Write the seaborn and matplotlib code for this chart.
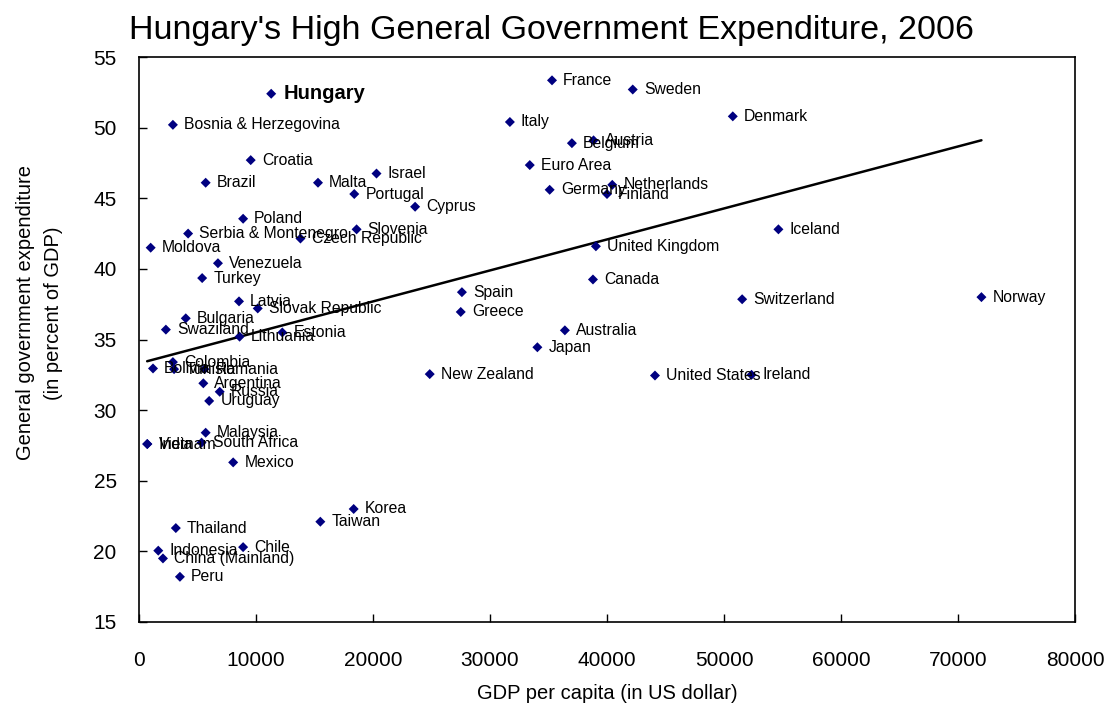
import numpy as np
import pandas as pd
import matplotlib
matplotlib.use("Agg")
import matplotlib.pyplot as plt
import seaborn as sns

# Countries, GDP per capita (US$) and general government expenditure (% of GDP), 2006
countries = [
    "Hungary", "Bosnia & Herzegovina", "Croatia", "Brazil", "Malta", "Israel",
    "Portugal", "Cyprus", "Poland", "Slovenia", "Czech Republic",
    "Serbia & Montenegro", "Moldova", "Venezuela", "Turkey", "Latvia",
    "Slovak Republic", "Bulgaria", "Swaziland", "Lithuania", "Estonia",
    "Colombia", "Bolivia", "Tunisia", "Romania", "Argentina", "Russia",
    "Uruguay", "Malaysia", "South Africa", "India", "Vietnam", "Mexico",
    "Thailand", "Indonesia", "China (Mainland)", "Peru", "Chile", "Korea",
    "Taiwan", "France", "Sweden", "Denmark", "Italy", "Austria", "Belgium",
    "Euro Area", "Germany", "Netherlands", "Finland", "United Kingdom",
    "Canada", "Spain", "Greece", "Australia", "Japan", "New Zealand",
    "United States", "Ireland", "Switzerland", "Iceland", "Norway",
]
gdp = [
    11300, 2900, 9550, 5700, 15300, 20300,
    18400, 23600, 8900, 18600, 13800,
    4200, 1000, 6750, 5400, 8550,
    10150, 4000, 2300, 8600, 12250,
    2900, 1200, 3000, 5600, 5500, 6900,
    6000, 5700, 5350, 700, 720, 8050,
    3150, 1650, 2050, 3500, 8900, 18350,
    15500, 35300, 42200, 50750, 31700, 38850, 37000,
    33400, 35100, 40450, 40000, 39050,
    38800, 27600, 27500, 36400, 34050, 24850,
    44100, 52350, 51550, 54650, 72000,
]
expenditure = [
    52.4, 50.2, 47.7, 46.1, 46.1, 46.75,
    45.3, 44.4, 43.55, 42.8, 42.15,
    42.5, 41.5, 40.4, 39.35, 37.7,
    37.2, 36.5, 35.7, 35.2, 35.5,
    33.4, 32.95, 32.9, 32.9, 31.9, 31.3,
    30.65, 28.4, 27.7, 27.6, 27.6, 26.3,
    21.65, 20.05, 19.5, 18.2, 20.3, 23.0,
    22.1, 53.35, 52.7, 50.8, 50.4, 49.1, 48.9,
    47.35, 45.6, 45.95, 45.3, 41.6,
    39.25, 38.35, 36.95, 35.65, 34.45, 32.55,
    32.45, 32.5, 37.85, 42.8, 38.0,
]

df = pd.DataFrame({"country": countries, "gdp": gdp, "exp": expenditure})

sns.set_theme(style="white")
plt.rcParams["font.family"] = ["Liberation Sans", "DejaVu Sans"]

fig, ax = plt.subplots(figsize=(11.1, 7.11), dpi=100)
fig.subplots_adjust(left=0.1252, right=0.9685, top=0.9198, bottom=0.1252)

# trend line over the data range
sns.regplot(data=df, x="gdp", y="exp", scatter=False, ci=None, truncate=True,
            color="black", line_kws={"linewidth": 1.8}, ax=ax)
sns.scatterplot(data=df, x="gdp", y="exp", marker="D", color="#000080",
                s=26, edgecolor="none", ax=ax, zorder=3)

for name, x, y in zip(countries, gdp, expenditure):
    if name == "Hungary":
        ax.annotate(name, (x, y), xytext=(9, 0), textcoords="offset points",
                    va="center", ha="left", fontsize=14.5, fontweight="bold",
                    color="black")
    else:
        ax.annotate(name, (x, y), xytext=(8, 0), textcoords="offset points",
                    va="center", ha="left", fontsize=11.3, color="black")

ax.set_xlim(0, 80000)
ax.set_ylim(15, 55)
ax.set_xticks(range(0, 80001, 10000))
ax.set_yticks(range(15, 56, 5))
ax.tick_params(axis="x", direction="in", length=6, width=1, pad=21,
               labelsize=15, colors="black", bottom=True)
ax.tick_params(axis="y", direction="in", length=6, width=1, pad=16,
               labelsize=15, colors="black", left=True)

for sp in ax.spines.values():
    sp.set_color("black")
    sp.set_linewidth(1.2)

ax.set_xlabel("GDP per capita (in US dollar)", fontsize=14.5, color="black",
              labelpad=10)
ax.set_ylabel("General government expenditure\n(in percent of GDP)",
              fontsize=14.5, color="black", linespacing=1.6)
ax.yaxis.set_label_coords(-0.081, 0.547)

fig.text(0.497, 0.957, "Hungary's High General Government Expenditure, 2006",
         ha="center", va="center", fontsize=24.5, color="black")

fig.savefig("out.png", dpi=100, facecolor="white")
